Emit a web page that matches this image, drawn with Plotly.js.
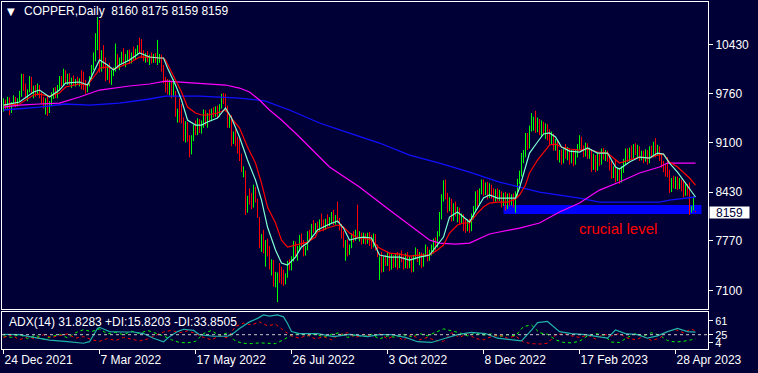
<!DOCTYPE html>
<html><head><meta charset="utf-8">
<script src="https://cdn.plot.ly/plotly-3.0.1.min.js"></script>
<style>html,body{margin:0;padding:0;background:#000036;}#chart{width:758px;height:373px;}</style>
</head><body><div id="chart"></div>
<script>
// ---- Date ticks ----
const tickIdx = [0,48,96,144,192,240,288,336];
const tickLabels = ["24 Dec 2021","7 Mar 2022","17 May 2022","26 Jul 2022","3 Oct 2022","8 Dec 2022","17 Feb 2023","28 Apr 2023"];
const priceTicks = [7100,7770,8430,9100,9760,10430];
const adxTicks = [4,25,61];

// ---- Daily OHLC bars (COPPER) ----
const opens = [
9600,9640,9580,9690,9520,9620,9700,9610,9680,9760,
9940,9850,9740,9800,9900,9790,9840,9760,9850,9730,
9660,9600,9680,9520,9640,9740,9800,9720,9860,9950,
9900,10060,9940,9990,9900,9960,9890,9940,9920,9950,
9870,9850,9820,9880,9980,10120,10280,10420,10700,10150,
10300,10140,9980,10120,9950,10050,10090,10230,10150,10210,
10290,10180,10270,10330,10200,10300,10250,10350,10380,10330,
10280,10240,10290,10220,10250,10200,10280,10210,10260,10270,
10100,9930,9820,9780,9900,9740,9780,9480,9520,9560,
9420,9160,9350,9150,8960,9180,9300,9240,9380,9280,
9370,9500,9380,9470,9420,9530,9480,9560,9470,9600,
9720,9700,9560,9340,9450,9100,9220,9080,9000,8880,
8680,8700,8180,8350,8300,8240,8480,8320,8060,7700,
7820,7640,7740,7600,7420,7480,7200,7000,7300,7260,
7220,7200,7300,7460,7400,7530,7720,7600,7680,7800,
7760,7600,7670,7860,7820,7960,7920,7990,7940,8030,
7990,7950,8040,7990,8070,8130,8020,8100,8060,7950,
7840,7720,7730,7600,7700,7840,7800,7880,7840,7860,
7760,7850,7750,7860,7740,7700,7840,7680,7300,7520,
7380,7500,7460,7590,7400,7560,7430,7570,7420,7560,
7520,7420,7560,7430,7520,7380,7550,7640,7510,7590,
7440,7570,7680,7520,7620,7680,7760,7700,7870,8100,
8350,8540,8380,8200,8320,8060,8240,8140,8200,8040,
8100,7940,7920,8030,7910,8110,8210,8400,8290,8450,
8560,8430,8520,8380,8510,8370,8330,8440,8340,8420,
8260,8380,8220,8370,8280,8360,8250,8400,8580,8680,
8920,8960,9180,9040,9300,9300,9480,9270,9400,9240,
9350,9230,9320,9170,9110,9200,9030,9110,8900,8960,
8850,8980,8920,9000,8850,8960,8830,8960,9050,9150,
9020,8940,9060,8920,8990,8750,8900,8740,8920,8820,
8990,8920,8960,8870,8760,8650,8740,8600,8720,8580,
8750,8850,8980,8880,9000,8920,9040,8970,9030,8890,
8960,8860,8970,8850,9010,8930,9060,8950,9030,8880,
8800,8740,8860,8670,8460,8590,8520,8610,8500,8580,
8470,8400,8520,8420,8170,8200,8160];
const highs = [
9700,9680,9720,9710,9650,9740,9720,9700,9800,10030,
10030,9900,9820,10000,9990,9870,9880,9900,9880,9780,
9720,9700,9740,9660,9780,9840,9850,9880,10000,10000,
10100,10080,10030,10040,9980,10010,9960,9990,9970,10080,
10060,9950,9900,10000,10150,10320,10580,10800,10760,10350,
10420,10250,10150,10180,10080,10120,10440,10300,10250,10330,
10380,10300,10350,10360,10320,10400,10370,10420,10520,10500,
10350,10310,10340,10290,10320,10300,10310,10490,10300,10290,
10150,9990,9960,9950,9940,9960,9800,9560,9700,9620,
9440,9390,9380,9200,9200,9340,9400,9430,9420,9400,
9550,9540,9500,9550,9560,9580,9590,9600,9620,9760,
9770,9760,9600,9480,9470,9250,9280,9180,9150,8950,
8780,8720,8380,8480,8420,8530,8500,8340,8090,7860,
7920,7780,7800,7700,7520,7510,7350,7340,7470,7420,
7380,7330,7500,7520,7560,7770,7760,7700,7850,7870,
7780,7700,7900,7920,8000,8050,8010,8030,8060,8140,
8060,8070,8130,8090,8160,8190,8120,8300,8080,8000,
7900,7780,7790,7720,7870,7900,7920,8260,7900,7880,
7880,7870,7880,7890,7850,7870,7860,7720,7560,7620,
7560,7580,7620,7610,7590,7580,7600,7620,7600,7640,
7560,7600,7620,7560,7560,7580,7680,7660,7620,7610,
7600,7720,7690,7650,7720,7800,7820,7900,8160,8400,
8590,8600,8420,8360,8340,8280,8300,8230,8220,8140,
8130,8060,8060,8070,8140,8240,8440,8460,8480,8600,
8600,8560,8570,8550,8530,8480,8470,8480,8460,8440,
8420,8430,8410,8420,8400,8410,8440,8610,8720,8960,
9000,9230,9230,9330,9500,9450,9530,9440,9420,9400,
9380,9360,9350,9280,9250,9220,9150,9130,9000,9010,
9010,9080,9040,9020,9000,9000,9000,9080,9200,9180,
9060,9100,9090,9030,9010,8950,8930,8960,8950,9020,
9030,9000,8990,8920,8860,8780,8870,8760,8760,8780,
8880,9020,9020,9030,9060,9080,9090,9070,9050,8990,
8990,9010,9000,9050,9060,9110,9160,9070,9050,8930,
8850,8800,8900,8730,8620,8650,8640,8640,8620,8600,
8590,8560,8540,8560,8240,8370,8175];
const lows = [
9520,9540,9560,9470,9500,9600,9580,9590,9650,9720,
9800,9700,9660,9780,9760,9700,9720,9740,9700,9620,
9560,9480,9460,9500,9600,9690,9700,9700,9820,9860,
9880,9900,9880,9880,9840,9870,9860,9880,9860,9820,
9810,9760,9780,9860,9960,10080,10200,10350,10050,10060,
10100,9930,9950,9900,9880,10000,10060,10100,10080,10160,
10150,10120,10200,10160,10170,10220,10230,10280,10300,10250,
10200,10180,10190,10150,10170,10180,10180,10150,10180,10060,
9900,9780,9750,9740,9700,9720,9450,9370,9370,9360,
9120,9100,9110,8900,8940,9120,9200,9200,9230,9220,
9300,9330,9300,9380,9390,9440,9450,9430,9450,9560,
9620,9520,9300,9300,9050,9080,9050,8950,8850,8700,
8630,8120,8150,8260,8200,8220,8290,8080,7670,7620,
7600,7420,7560,7380,7300,7150,7140,6940,7200,7180,
7160,7180,7270,7370,7370,7490,7550,7500,7650,7700,
7560,7570,7640,7780,7790,7880,7870,7900,7900,7960,
7900,7920,7960,7970,8010,7980,7990,8010,7910,7800,
7680,7500,7560,7580,7670,7750,7770,7810,7760,7720,
7730,7720,7730,7700,7660,7680,7640,7550,7240,7340,
7350,7430,7430,7360,7380,7400,7410,7380,7400,7480,
7380,7400,7390,7400,7340,7350,7520,7480,7440,7400,
7420,7550,7490,7500,7570,7600,7640,7680,7830,8060,
8300,8330,8150,8170,8030,8040,8100,8020,8000,8010,
7900,7880,7900,7880,7900,8060,8180,8230,8250,8400,
8380,8390,8330,8350,8340,8300,8300,8310,8310,8220,
8240,8180,8200,8240,8250,8220,8150,8380,8540,8640,
8820,8900,9000,9020,9250,9260,9230,9240,9200,9180,
9200,9150,9130,9070,9080,8990,8990,8860,8830,8800,
8820,8880,8860,8800,8820,8780,8800,8900,9000,8980,
8900,8910,8880,8880,8700,8730,8700,8720,8780,8800,
8870,8850,8840,8720,8610,8620,8560,8580,8540,8560,
8690,8800,8840,8850,8880,8890,8930,8900,8850,8860,
8820,8840,8800,8820,8890,8900,8900,8920,8850,8760,
8700,8640,8630,8420,8430,8480,8470,8460,8470,8440,
8360,8380,8380,8120,8150,8180,8159];
const closes = [
9640,9580,9690,9520,9620,9700,9610,9680,9760,9940,
9850,9740,9800,9900,9790,9840,9760,9850,9730,9660,
9600,9680,9520,9640,9740,9800,9720,9860,9950,9900,
10060,9940,9990,9900,9960,9890,9940,9920,9950,9870,
9850,9820,9880,9980,10120,10280,10420,10700,10150,10300,
10140,9980,10120,9950,10050,10090,10230,10150,10210,10290,
10180,10270,10330,10200,10300,10250,10350,10380,10330,10280,
10240,10290,10220,10250,10200,10280,10210,10260,10270,10100,
9930,9820,9780,9900,9740,9780,9480,9520,9400,9420,
9160,9350,9150,8960,9180,9300,9240,9380,9280,9370,
9500,9380,9470,9420,9530,9480,9560,9470,9600,9720,
9700,9560,9340,9450,9100,9220,9080,9000,8880,8740,
8760,8180,8350,8300,8240,8480,8320,8110,7700,7820,
7640,7740,7600,7420,7480,7200,7300,7300,7260,7220,
7200,7300,7460,7400,7530,7720,7600,7680,7800,7760,
7600,7670,7860,7820,7960,7920,7990,7940,8030,7990,
7950,8040,7990,8070,8130,8020,8100,8060,7950,7840,
7720,7730,7600,7700,7840,7800,7880,7840,7860,7760,
7850,7750,7860,7740,7700,7840,7680,7580,7520,7380,
7500,7460,7590,7400,7560,7430,7570,7420,7560,7520,
7420,7560,7430,7520,7380,7550,7640,7510,7590,7440,
7570,7680,7520,7620,7680,7760,7700,7870,8100,8350,
8540,8380,8200,8320,8060,8240,8140,8200,8040,8100,
7940,7920,8030,7910,8110,8210,8400,8290,8450,8560,
8430,8520,8380,8510,8370,8330,8440,8340,8420,8260,
8380,8220,8370,8280,8360,8250,8400,8580,8680,8920,
8960,9180,9040,9300,9460,9420,9270,9400,9240,9350,
9230,9320,9170,9110,9200,9030,9110,8900,8960,8850,
8980,8920,9000,8850,8960,8830,8960,9050,9150,9020,
8940,9060,8920,8990,8750,8900,8740,8920,8820,8990,
8920,8960,8870,8760,8650,8740,8600,8720,8580,8750,
8850,8980,8880,9000,8920,9040,8970,9030,8890,8960,
8860,8970,8850,9010,8930,9060,8950,9030,8880,8800,
8740,8690,8670,8460,8590,8520,8610,8500,8580,8470,
8400,8520,8420,8160,8220,8330,8159];

// ---- Moving averages (bar index / price) ----
const fastIdx = [0,8,15,18,23,28,31,38,42,47,48,52,55,58,63,68,73,78,80,82,86,89,92,96,99,102,107,111,114,118,122,126,129,132,136,139,142,146,149,152,156,157,162,167,170,173,177,180,184,188,193,198,203,208,213,217,220,223,227,230,233,237,240,243,247,252,256,258,261,263,267,270,273,276,279,283,288,292,297,302,306,308,313,318,323,327,330,333,337,340,343,346];
const fastVal = [9608,9649,9784,9811,9717,9811,9906,9920,9879,10177,10218,10150,10082,10150,10218,10312,10258,10245,10245,10109,9879,9676,9405,9337,9337,9378,9432,9568,9432,9175,8864,8593,8322,7957,7645,7469,7442,7550,7686,7740,7875,7916,7984,8038,7943,7780,7808,7821,7808,7577,7550,7550,7510,7550,7577,7713,7821,8092,8160,8092,8024,8214,8349,8390,8349,8349,8349,8485,8769,8958,9108,9216,9230,9175,9040,8985,8972,9026,8958,8958,8769,8742,8837,8904,8891,8958,8944,8823,8701,8593,8485,8363];
const midIdx = [0,8,15,18,23,28,31,38,42,47,48,52,55,58,63,68,73,78,80,81,86,89,92,96,99,102,107,111,114,118,122,126,129,132,136,139,142,146,149,152,156,157,162,167,170,173,177,180,184,188,193,198,203,208,213,217,220,223,227,230,233,237,240,243,247,252,256,258,261,263,267,270,273,276,279,283,288,292,297,302,306,308,313,318,323,327,330,333,337,340,343,346];
const midVal = [9608,9622,9744,9757,9730,9771,9852,9893,9879,10055,10109,10123,10096,10123,10177,10258,10258,10245,10245,10218,9960,9784,9581,9500,9473,9473,9500,9541,9432,9297,9040,8823,8552,8227,8011,7780,7686,7713,7740,7753,7821,7889,7943,7984,7957,7875,7808,7808,7780,7672,7604,7591,7564,7577,7577,7645,7713,7875,7984,8011,8011,8146,8227,8281,8295,8295,8336,8390,8525,8688,8864,8972,9067,9080,9040,9013,8999,9013,8972,8958,8864,8823,8864,8904,8891,8931,8944,8836,8769,8701,8620,8525];
const slowIdx = [0,8,18,28,38,48,63,73,81,97,111,118,123,128,133,139,148,163,178,193,203,213,218,226,233,243,248,258,268,278,288,298,308,318,328,332,346];
const slowVal = [9581,9608,9622,9635,9717,9811,9866,9893,9933,9906,9879,9838,9784,9676,9541,9405,9175,8769,8498,8187,7984,7780,7740,7726,7740,7862,7889,7943,8011,8160,8281,8457,8566,8688,8769,8823,8823];
const longIdx = [0,18,31,43,58,73,81,98,118,131,143,158,173,188,203,218,233,248,258,268,278,288,298,318,328,333,341,346];
const longVal = [9541,9581,9622,9608,9635,9690,9730,9730,9703,9662,9541,9365,9229,9094,8931,8823,8701,8566,8498,8430,8390,8349,8295,8295,8295,8322,8349,8363];

// ---- Crucial level zone ----
const zoneBars = [250, 349];
const zonePrice = [8133, 8255];
const lastPrice = 8159;

// ---- ADX(14) ----
const adxIdx = [0,8,13,23,32,40,43,47,48,53,60,65,70,75,80,83,87,90,95,98,105,112,115,118,123,127,130,133,137,140,142,144,148,157,165,173,182,188,194,201,207,214,221,227,234,241,247,254,259,264,267,272,274,278,284,291,297,302,306,311,317,322,327,332,337,342,346];
const adxVal = [26,25,20,11,7,3,7,41,44,33,32,32,28,16,7,20,33,39,36,25,21,21,29,41,58,67,76,73,76,71,54,33,28,28,20,26,20,25,25,18,7,5,16,25,31,28,16,11,9,37,56,59,50,33,28,25,20,16,37,28,25,16,22,33,41,33,31.8];
const plusDI = [22,18,26,15,24,13,20,26,17,30,38,33,40,27,31,25,34,28,36,30,22,12,5,4,8,28,36,22,30,8,3,2,4,3,2,12,24,28,22,27,19,26,30,18,24,20,26,14,22,18,25,20,28,22,30,40,35,30,22,29,24,27,20,25,22,46,50,30,26,12,5,4,8,22,28,24,6,5,18,28,22,30,24,10,6,8,12,15.8];
const minusDI = [18,24,12,20,14,25,18,22,27,16,20,12,8,15,10,18,13,9,14,22,32,36,30,35,28,18,12,22,17,46,55,50,58,48,52,36,22,16,24,14,20,12,25,30,18,26,20,28,14,24,10,26,12,18,10,8,30,18,28,15,12,20,24,16,22,6,2,1,3,24,28,22,18,24,14,26,22,28,16,12,20,10,16,34,38,30,40,33.85];

const BG = '#000036';
const lastBar = closes.length - 1;
const diIdx = plusDI.map((_, k) => Math.min(4 * k, lastBar));

// vertical high-low segments per bar, split by direction
function barSegments(up) {
  const xs = [], ys = [];
  for (let i = 0; i < closes.length; i++) {
    if ((closes[i] > opens[i]) === up) { xs.push(i, i, null); ys.push(lows[i], highs[i], null); }
  }
  return {xs, ys};
}
const upBars = barSegments(true), downBars = barSegments(false);

const traces = [
  {type:'scatter', mode:'lines', x:upBars.xs, y:upBars.ys, xaxis:'x2', yaxis:'y', line:{color:'#00ff00', width:1}, hoverinfo:'skip', connectgaps:false},
  {type:'scatter', mode:'lines', x:downBars.xs, y:downBars.ys, xaxis:'x2', yaxis:'y', line:{color:'#ff0000', width:1}, hoverinfo:'skip', connectgaps:false},
  {type:'scatter', mode:'lines', x:longIdx, y:longVal, xaxis:'x2', yaxis:'y', line:{color:'#1010ff', width:1.3}, hoverinfo:'skip'},
  {type:'scatter', mode:'lines', x:slowIdx, y:slowVal, xaxis:'x2', yaxis:'y', line:{color:'#ff00ff', width:1.2}, hoverinfo:'skip'},
  {type:'scatter', mode:'lines', x:midIdx, y:midVal, xaxis:'x2', yaxis:'y', line:{color:'#ff0000', width:1.2}, hoverinfo:'skip'},
  {type:'scatter', mode:'lines', x:fastIdx, y:fastVal, xaxis:'x2', yaxis:'y', line:{color:'#7fffd4', width:1.2}, hoverinfo:'skip'},
  {type:'scatter', mode:'lines', x:diIdx, y:plusDI, xaxis:'x', yaxis:'y2', line:{color:'#00ff00', width:1, dash:'3px,3px'}, hoverinfo:'skip'},
  {type:'scatter', mode:'lines', x:diIdx, y:minusDI, xaxis:'x', yaxis:'y2', line:{color:'#ff0000', width:1, dash:'3px,3px'}, hoverinfo:'skip'},
  {type:'scatter', mode:'lines', x:adxIdx, y:adxVal, xaxis:'x', yaxis:'y2', line:{color:'#20b2aa', width:1.2}, hoverinfo:'skip'}
];

const FONT = 'Liberation Sans, Arial, sans-serif';
const xRange = [-0.75, 352.25];
const layout = {
  width:758, height:373,
  margin:{l:2, r:50, t:2, b:24, pad:0},
  paper_bgcolor:BG, plot_bgcolor:BG, showlegend:false,
  font:{family:FONT, size:12, color:'#ffffff'},
  xaxis:{domain:[0,1], anchor:'y2', range:xRange, tickmode:'array', tickvals:tickIdx, ticktext:tickLabels,
         ticks:'outside', ticklen:4, tickwidth:1, tickcolor:'#ffffff', showline:true, mirror:true,
         linecolor:'#ffffff', linewidth:1, showgrid:false, zeroline:false, ticklabelposition:'outside right',
         tickfont:{family:FONT, size:12, color:'#ffffff'}},
  xaxis2:{domain:[0,1], anchor:'y', range:xRange, showticklabels:false, ticks:'', showline:true, mirror:true,
          linecolor:'#ffffff', linewidth:1, showgrid:false, zeroline:false},
  yaxis:{domain:[0.11527,1], anchor:'x2', side:'right', range:[6847,11003], tickmode:'array', tickvals:priceTicks,
         ticktext:priceTicks.map(String),
         ticks:'outside', ticklen:4, tickwidth:1, tickcolor:'#ffffff', showline:true, mirror:true, linecolor:'#ffffff',
         linewidth:1, showgrid:false, zeroline:false, tickfont:{family:FONT, size:12, color:'#ffffff'}},
  yaxis2:{domain:[0,0.1066], anchor:'x', side:'right', range:[-11.8,83.4], tickmode:'array', tickvals:adxTicks,
          ticktext:adxTicks.map(String),
          ticks:'outside', ticklen:4, tickwidth:1, tickcolor:'#ffffff', showline:true, mirror:true, linecolor:'#ffffff',
          linewidth:1, showgrid:false, zeroline:false, tickfont:{family:FONT, size:11, color:'#ffffff'}},
  shapes:[
    {type:'rect', xref:'x2', yref:'y', x0:zoneBars[0], x1:zoneBars[1], y0:zonePrice[0], y1:zonePrice[1],
     fillcolor:'#0000ff', line:{width:0}, layer:'below'},
    {type:'line', xref:'paper', yref:'y2', x0:0, x1:1, y0:25, y1:25, line:{color:'#c8c8c8', width:1, dash:'3px,3px'}}
  ],
  annotations:[
    {xref:'paper', yref:'paper', x:0.004, y:0.974, xanchor:'left', yanchor:'middle', text:'▼', showarrow:false,
     font:{family:'DejaVu Sans', size:10, color:'#ffffff'}},
    {xref:'paper', yref:'paper', x:0.0283, y:0.974, xanchor:'left', yanchor:'middle',
     text:'COPPER,Daily  8160 8175 8159 8159', showarrow:false, font:{family:FONT, size:12, color:'#ffffff'}},
    {xref:'paper', yref:'paper', x:0.0075, y:0.0764, xanchor:'left', yanchor:'middle',
     text:'ADX(14) 31.8283 +DI:15.8203 -DI:33.8505', showarrow:false, font:{family:FONT, size:12, color:'#ffffff'}},
    {xref:'x2', yref:'y', x:307, y:7943, xanchor:'center', yanchor:'middle', text:'crucial level', showarrow:false,
     font:{family:FONT, size:15, color:'#ff0000'}},
    {xref:'paper', yref:'y', x:1, y:lastPrice, xanchor:'left', yanchor:'middle', xshift:1, text:String(lastPrice),
     showarrow:false, bgcolor:'#ffffff', borderpad:0, width:39, height:11, align:'center',
     font:{family:FONT, size:12, color:'#000036'}}
  ]
};

Plotly.newPlot('chart', traces, layout, {staticPlot:true, displayModeBar:false});
</script>
</body></html>
